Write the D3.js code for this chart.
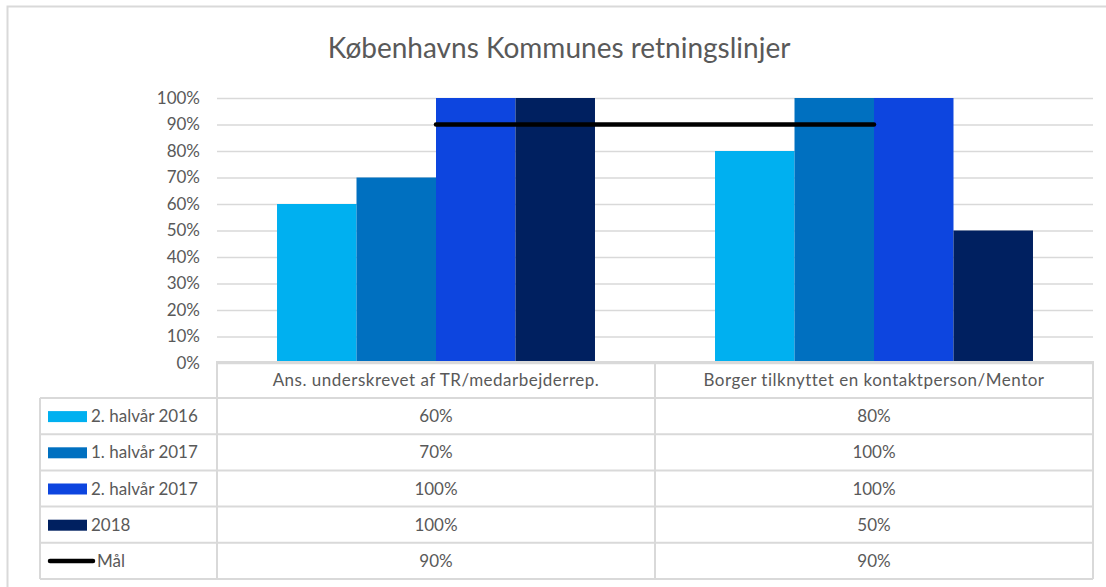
<!DOCTYPE html>
<html>
<head>
<meta charset="utf-8">
<script src="https://cdn.jsdelivr.net/npm/d3@7"></script>
<style>
  html, body { margin: 0; padding: 0; background: #fff; }
  svg { display: block; font-family: Lato, "Open Sans", sans-serif; }
</style>
</head>
<body>
<svg id="chart" width="1106" height="587"></svg>
<script>
(function () {
  "use strict";

  var categories = ["Ans. underskrevet af TR/medarbejderrep.", "Borger tilknyttet en kontaktperson/Mentor"];
  var seriesNames = ["2. halvår 2016", "1. halvår 2017", "2. halvår 2017", "2018"];
  var seriesColors = ["#00b0f0", "#0070c0", "#0d45df", "#002060"];
  var h2016b = [0.6, 0.8];
  var h2017a = [0.7, 1.0];
  var h2017b = [1.0, 1.0];
  var y2018 = [1.0, 0.5];
  var goalName = "Mål";
  var goal = [0.9, 0.9];
  var yTicks = [0, 0.1, 0.2, 0.3, 0.4, 0.5, 0.6, 0.7, 0.8, 0.9, 1.0];

  var seriesValues = [h2016b, h2017a, h2017b, y2018];
  var fmt = d3.format(".0%");

  var svg = d3.select("#chart");
  var grey = "#595959";
  var lineGrey = "#d9d9d9";
  var fs = 17;

  // outer frame (cut at right/bottom like the screenshot)
  svg.append("rect")
    .attr("x", 7.5).attr("y", 6.5).attr("width", 1110).attr("height", 600)
    .attr("fill", "#fff").attr("stroke", lineGrey).attr("stroke-width", 2);

  svg.append("text")
    .attr("x", 559).attr("y", 58)
    .attr("text-anchor", "middle")
    .attr("fill", grey)
    .attr("font-size", 28)
    .text("Københavns Kommunes retningslinjer");

  var left = 217, right = 1093, top = 98, bottom = 363;
  var x = d3.scaleBand().domain(categories).range([left, right]).padding(0);
  var xs = d3.scaleBand().domain(seriesNames).range([0, x.bandwidth()])
    .paddingInner(0).paddingOuter(0.755);
  var y = d3.scaleLinear().domain([0, 1]).range([bottom, top]);

  // gridlines + tick labels
  var yAxis = d3.axisLeft(y).tickValues(yTicks).tickFormat(fmt)
    .tickSize(-(right - left)).tickPadding(17);
  var gy = svg.append("g").attr("transform", "translate(" + left + ",0)").call(yAxis);
  gy.select(".domain").remove();
  gy.selectAll(".tick line").attr("stroke", lineGrey).attr("stroke-width", 1.5);
  gy.selectAll(".tick text").attr("fill", grey).attr("font-size", fs)
    .attr("font-family", "Lato, sans-serif");

  // bars
  var barData = [];
  seriesValues.forEach(function (vals, si) {
    vals.forEach(function (v, ci) {
      barData.push({ cat: categories[ci], s: seriesNames[si], v: v, color: seriesColors[si] });
    });
  });
  svg.append("g").selectAll("rect").data(barData).enter().append("rect")
    .attr("x", function (d) { return x(d.cat) + xs(d.s); })
    .attr("width", xs.bandwidth())
    .attr("y", function (d) { return y(d.v); })
    .attr("height", function (d) { return y(0) - y(d.v); })
    .attr("fill", function (d) { return d.color; });

  // goal line
  var line = d3.line()
    .x(function (d, i) { return x(categories[i]) + x.bandwidth() / 2; })
    .y(function (d) { return y(d); });
  svg.append("path").datum(goal)
    .attr("d", line)
    .attr("fill", "none").attr("stroke", "#000")
    .attr("stroke-width", 4.5).attr("stroke-linecap", "round");

  // data table
  var headerTop = 362, headerH = 36, rowH = 36.2;
  var tableLeft = 40;
  var rows = seriesNames.concat([goalName]);
  var rowValues = seriesValues.concat([goal]);
  var tableBottom = headerTop + headerH + rows.length * rowH;
  var t = svg.append("g").attr("stroke", lineGrey).attr("stroke-width", 2).attr("fill", "none");

  t.append("path").attr("d",
    "M" + left + "," + tableBottom + "V" + headerTop + "H" + right + "V" + tableBottom);
  t.append("line").attr("x1", x(categories[1])).attr("x2", x(categories[1]))
    .attr("y1", headerTop).attr("y2", tableBottom);
  t.append("line").attr("x1", tableLeft).attr("x2", tableLeft)
    .attr("y1", headerTop + headerH).attr("y2", tableBottom);
  rows.forEach(function (r, i) {
    var yy = headerTop + headerH + i * rowH;
    t.append("line").attr("x1", tableLeft).attr("x2", right).attr("y1", yy).attr("y2", yy);
  });
  t.append("line").attr("x1", tableLeft).attr("x2", right)
    .attr("y1", tableBottom).attr("y2", tableBottom);

  // header labels
  svg.append("g").selectAll("text").data(categories).enter().append("text")
    .attr("x", function (d) { return x(d) + x.bandwidth() / 2; })
    .attr("y", headerTop + headerH / 2 + 6)
    .attr("text-anchor", "middle").attr("fill", grey).attr("font-size", fs)
    .attr("letter-spacing", 0.5)
    .text(function (d) { return d; });

  // rows
  rows.forEach(function (r, i) {
    var cy = headerTop + headerH + i * rowH + rowH / 2;
    if (i < seriesNames.length) {
      svg.append("rect").attr("x", 48).attr("y", cy - 5).attr("width", 39).attr("height", 11)
        .attr("fill", seriesColors[i]);
      svg.append("text").attr("x", 91).attr("y", cy + 6).attr("fill", grey)
        .attr("font-size", fs).text(r);
    } else {
      svg.append("line").attr("x1", 50).attr("x2", 93).attr("y1", cy).attr("y2", cy)
        .attr("stroke", "#000").attr("stroke-width", 4.5).attr("stroke-linecap", "round");
      svg.append("text").attr("x", 97).attr("y", cy + 6).attr("fill", grey)
        .attr("font-size", fs).text(r);
    }
    rowValues[i].forEach(function (v, ci) {
      svg.append("text")
        .attr("x", x(categories[ci]) + x.bandwidth() / 2)
        .attr("y", cy + 6)
        .attr("text-anchor", "middle").attr("fill", grey).attr("font-size", fs)
        .text(fmt(v));
    });
  });
}());
</script>
</body>
</html>
